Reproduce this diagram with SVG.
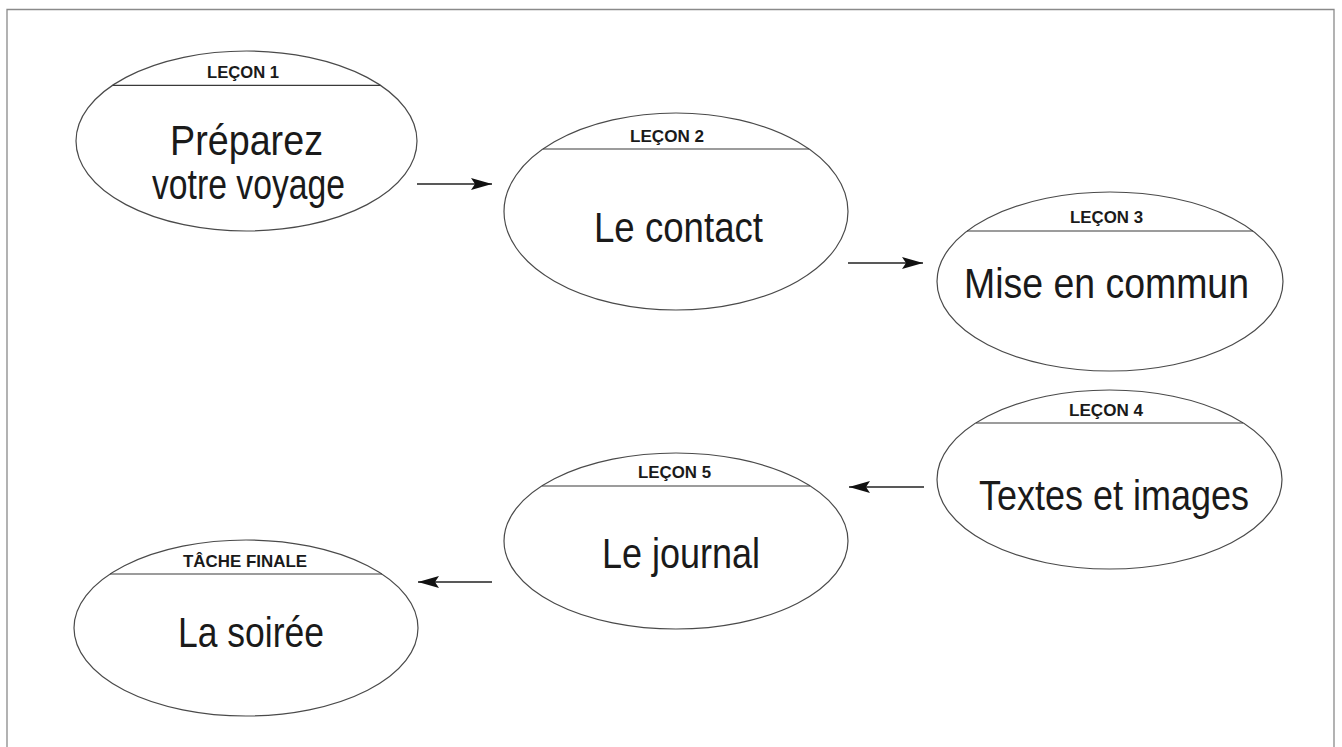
<svg xmlns="http://www.w3.org/2000/svg" width="1342" height="747" viewBox="0 0 1342 747">
  <style>
    .frame { fill: none; stroke: #8a8a8a; stroke-width: 1.3; }
    .node ellipse { fill: #ffffff; stroke: #4a4a4a; stroke-width: 1.2; }
    .node line { stroke: #3a3a3a; stroke-width: 1.2; }
    .title { font-family: "Liberation Sans", Arial, sans-serif; font-weight: bold; font-size: 16.5px; fill: #1a1a1a; text-anchor: middle; }
    .label { font-family: "Liberation Sans", Arial, sans-serif; font-size: 42px; fill: #1a1a1a; text-anchor: middle; }
    .conn { stroke: #222222; stroke-width: 1.3; fill: none; marker-end: url(#arrow); }
  </style>
  <defs>
    <marker id="arrow" markerUnits="userSpaceOnUse" markerWidth="24" markerHeight="14" refX="21" refY="7" orient="auto">
      <path d="M0,1 L21,7 L0,13 L4,7 z" fill="#111111"/>
    </marker>
  </defs>
  <rect width="1342" height="747" fill="#ffffff"/>
  <path class="frame" d="M7,747 V9.5 H1334 V747"/>

  <g id="node-lecon1" class="node">
    <ellipse cx="246.5" cy="141" rx="170.5" ry="90"/>
    <line x1="112.6" y1="85.3" x2="380.4" y2="85.3"/>
    <text class="title" x="243" y="77.5" textLength="72" lengthAdjust="spacingAndGlyphs">LEÇON 1</text>
    <text class="label" font-size="37"><tspan x="246.5" y="155" textLength="153" lengthAdjust="spacingAndGlyphs">Préparez</tspan><tspan x="248.5" y="199" textLength="193" lengthAdjust="spacingAndGlyphs">votre voyage</tspan></text>
  </g>

  <g id="node-lecon2" class="node">
    <ellipse cx="676" cy="211.5" rx="172" ry="98.5"/>
    <line x1="543" y1="149" x2="809" y2="149"/>
    <text class="title" x="667" y="141.5" textLength="74" lengthAdjust="spacingAndGlyphs">LEÇON 2</text>
    <text class="label" x="678.5" y="242" font-size="44" textLength="169" lengthAdjust="spacingAndGlyphs">Le contact</text>
  </g>

  <g id="node-lecon3" class="node">
    <ellipse cx="1110" cy="281.5" rx="173" ry="89.5"/>
    <line x1="967" y1="231" x2="1253" y2="231"/>
    <text class="title" x="1106.5" y="223" textLength="73" lengthAdjust="spacingAndGlyphs">LEÇON 3</text>
    <text class="label" x="1106.5" y="298" font-size="41" textLength="285" lengthAdjust="spacingAndGlyphs">Mise en commun</text>
  </g>

  <g id="node-lecon4" class="node">
    <ellipse cx="1109.5" cy="479.5" rx="172.5" ry="89.5"/>
    <line x1="976" y1="423" x2="1243" y2="423"/>
    <text class="title" x="1106" y="416" textLength="74" lengthAdjust="spacingAndGlyphs">LEÇON 4</text>
    <text class="label" x="1114" y="510" font-size="42" textLength="270" lengthAdjust="spacingAndGlyphs">Textes et images</text>
  </g>

  <g id="node-lecon5" class="node">
    <ellipse cx="676" cy="541" rx="172" ry="88"/>
    <line x1="542" y1="486" x2="810" y2="486"/>
    <text class="title" x="674.5" y="478" textLength="73" lengthAdjust="spacingAndGlyphs">LEÇON 5</text>
    <text class="label" x="681" y="568" font-size="43" textLength="158" lengthAdjust="spacingAndGlyphs">Le journal</text>
  </g>

  <g id="node-tache-finale" class="node">
    <ellipse cx="246" cy="628" rx="172" ry="88"/>
    <line x1="110" y1="574" x2="382" y2="574"/>
    <text class="title" x="245" y="567" textLength="124" lengthAdjust="spacingAndGlyphs">TÂCHE FINALE</text>
    <text class="label" x="251" y="647" font-size="42" textLength="146" lengthAdjust="spacingAndGlyphs">La soirée</text>
  </g>

  <g id="connectors">
    <line class="conn" x1="417" y1="184" x2="492" y2="184"/>
    <line class="conn" x1="848" y1="263" x2="923" y2="263"/>
    <line class="conn" x1="924" y1="487" x2="849" y2="487"/>
    <line class="conn" x1="492" y1="582" x2="418" y2="582"/>
  </g>
</svg>
